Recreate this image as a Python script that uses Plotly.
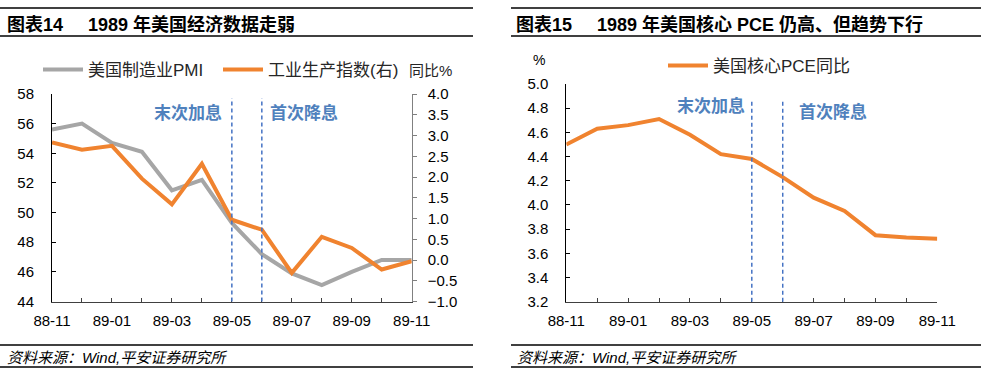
import plotly.graph_objects as go

W, H = 981, 377

months = ["88-11", "88-12", "89-01", "89-02", "89-03", "89-04", "89-05",
          "89-06", "89-07", "89-08", "89-09", "89-10", "89-11"]
tick_labels = ["88-11", "", "89-01", "", "89-03", "", "89-05",
               "", "89-07", "", "89-09", "", "89-11"]
pmi = [55.6, 56.0, 54.7, 54.1, 51.5, 52.2, 49.3, 47.2, 45.9, 45.1, 46.0, 46.8, 46.8]
ip_yoy = [2.83, 2.66, 2.75, 1.96, 1.34, 2.32, 0.97, 0.73, -0.31, 0.56, 0.29, -0.23, -0.03]
core_pce = [4.50, 4.63, 4.66, 4.71, 4.58, 4.42, 4.38, 4.23, 4.06, 3.95, 3.75, 3.73, 3.72]
event_months = ["89-05", "89-06"]
event_labels = ["末次加息", "首次降息"]

FONT = "Liberation Sans, Arial, Noto Sans CJK SC, sans-serif"
ORANGE = "#F0832F"
GRAY = "#A6A6A6"
BLUE_LINE = "#4472C4"
BLUE_TXT = "#4F81BD"


def px(x):
    return x / W


def py(y):
    return 1 - y / H


fig = go.Figure()

fig.add_trace(go.Scatter(x=months, y=pmi, name="美国制造业PMI", mode="lines",
                         line=dict(color=GRAY, width=4), xaxis="x", yaxis="y",
                         legend="legend"))
fig.add_trace(go.Scatter(x=months, y=ip_yoy, name="工业生产指数(右)", mode="lines",
                         line=dict(color=ORANGE, width=4), xaxis="x", yaxis="y2",
                         legend="legend"))
fig.add_trace(go.Scatter(x=months, y=core_pce, name="美国核心PCE同比", mode="lines",
                         line=dict(color=ORANGE, width=4), xaxis="x2", yaxis="y3",
                         legend="legend2"))

tickfont = dict(family=FONT, size=15, color="#000000")

common_x = dict(type="category", categoryorder="array", categoryarray=months,
                range=[0, 12], tickmode="array", tickvals=months, ticktext=tick_labels,
                ticks="inside", ticklen=4, tickcolor="#404040", showline=True,
                linecolor="#404040", linewidth=1, showgrid=False, zeroline=False,
                tickfont=tickfont, ticklabelstandoff=5, automargin=False)

fig.update_layout(
    template="none",
    width=W, height=H, autosize=False,
    margin=dict(l=0, r=0, t=0, b=0, pad=0),
    paper_bgcolor="white", plot_bgcolor="white",
    font=dict(family=FONT, size=15, color="#000000"),
    showlegend=True,
    xaxis=dict(domain=[px(52), px(411.7)], anchor="y", **common_x),
    yaxis=dict(domain=[py(301.5), py(94)], range=[44, 58], dtick=2, tick0=44,
               ticks="inside", ticklen=4, tickcolor="#000000", showline=True,
               linecolor="#000000", linewidth=1, showgrid=False, zeroline=False,
               tickfont=tickfont, ticklabelstandoff=14, anchor="x", automargin=False),
    yaxis2=dict(overlaying="y", side="right", range=[-1, 4], dtick=0.5, tick0=-1,
                tickformat=".1f", ticks="outside", ticklen=4, tickcolor="#808080",
                showline=True, linecolor="#808080", linewidth=1, showgrid=False,
                zeroline=False, tickfont=tickfont, ticklabelstandoff=8, anchor="x",
                automargin=False),
    xaxis2=dict(domain=[px(566.3), px(937.3)], anchor="y3", **common_x),
    yaxis3=dict(domain=[py(301.7), py(84)], range=[3.2, 5.0], dtick=0.2, tick0=3.2,
                tickformat=".1f", ticks="inside", ticklen=4, tickcolor="#000000",
                showline=True, linecolor="#000000", linewidth=1, showgrid=False,
                zeroline=False, tickfont=tickfont, ticklabelstandoff=14, anchor="x2",
                automargin=False),
    legend=dict(orientation="h", x=px(38), y=py(70), xanchor="left", yanchor="middle",
                font=dict(family=FONT, size=17, color="#262626"), itemwidth=40,
                entrywidth=125, entrywidthmode="pixels",
                bgcolor="rgba(0,0,0,0)", traceorder="normal"),
    legend2=dict(orientation="h", x=px(663), y=py(66), xanchor="left", yanchor="middle",
                 font=dict(family=FONT, size=17, color="#262626"), itemwidth=40,
                 bgcolor="rgba(0,0,0,0)"),
)

shapes = []
# title and footer rules
for (x0, x1) in [(0, 473), (511, 981)]:
    for yy in [8, 36, 345, 367]:
        shapes.append(dict(type="line", xref="paper", yref="paper",
                           x0=px(x0), x1=px(x1), y0=py(yy), y1=py(yy),
                           line=dict(color="#000000", width=1.5)))
# event dashed lines
for m in event_months:
    shapes.append(dict(type="line", xref="x", yref="y domain", x0=m, x1=m,
                       y0=0, y1=0.98, line=dict(color=BLUE_LINE, width=1.5, dash="4px,3px")))
    shapes.append(dict(type="line", xref="x2", yref="y3 domain", x0=m, x1=m,
                       y0=0, y1=0.925, line=dict(color=BLUE_LINE, width=1.5, dash="4px,3px")))
fig.update_layout(shapes=shapes)

ann = []
title_font = dict(family=FONT, size=18, color="#000000")
ann.append(dict(text="<b>图表14</b>", x=px(5), y=py(25), xref="paper", yref="paper",
                xanchor="left", yanchor="middle", showarrow=False, font=title_font))
ann.append(dict(text="<b>1989 年美国经济数据走弱</b>", x=px(86), y=py(25), xref="paper",
                yref="paper", xanchor="left", yanchor="middle", showarrow=False,
                font=title_font))
ann.append(dict(text="<b>图表15</b>", x=px(514), y=py(25), xref="paper", yref="paper",
                xanchor="left", yanchor="middle", showarrow=False, font=title_font))
ann.append(dict(text="<b>1989 年美国核心 PCE 仍高、但趋势下行</b>", x=px(595), y=py(25),
                xref="paper", yref="paper", xanchor="left", yanchor="middle",
                showarrow=False, font=title_font))
foot_font = dict(family=FONT, size=15, color="#000000")
for x0 in [5, 515]:
    ann.append(dict(text="<i>资料来源：Wind,平安证券研究所</i>", x=px(x0), y=py(357),
                    xref="paper", yref="paper", xanchor="left", yanchor="middle",
                    showarrow=False, font=foot_font))
# axis unit labels
ann.append(dict(text="同比%", x=px(407), y=py(70), xref="paper", yref="paper",
                xanchor="left", yanchor="middle", showarrow=False,
                font=dict(family=FONT, size=15, color="#262626")))
ann.append(dict(text="%", x=px(531), y=py(60), xref="paper", yref="paper",
                xanchor="left", yanchor="middle", showarrow=False,
                font=dict(family=FONT, size=14, color="#000000")))
# event annotations
ev_font = dict(family=FONT, size=17, color=BLUE_TXT)
ann.append(dict(text="<b>" + event_labels[0] + "</b>", x=event_months[0], y=py(113),
                xref="x", yref="paper", xanchor="right", yanchor="middle", xshift=-8,
                showarrow=False, font=ev_font))
ann.append(dict(text="<b>" + event_labels[1] + "</b>", x=event_months[1], y=py(113),
                xref="x", yref="paper", xanchor="left", yanchor="middle", xshift=6,
                showarrow=False, font=ev_font))
ann.append(dict(text="<b>" + event_labels[0] + "</b>", x=event_months[0], y=py(106),
                xref="x2", yref="paper", xanchor="right", yanchor="middle", xshift=-5,
                showarrow=False, font=ev_font))
ann.append(dict(text="<b>" + event_labels[1] + "</b>", x=event_months[1], y=py(112),
                xref="x2", yref="paper", xanchor="left", yanchor="middle", xshift=14,
                showarrow=False, font=ev_font))
fig.update_layout(annotations=ann)

fig.write_html("out.html", config={"displayModeBar": False},
               post_script="document.body.style.margin='0';document.body.style.padding='0';")
